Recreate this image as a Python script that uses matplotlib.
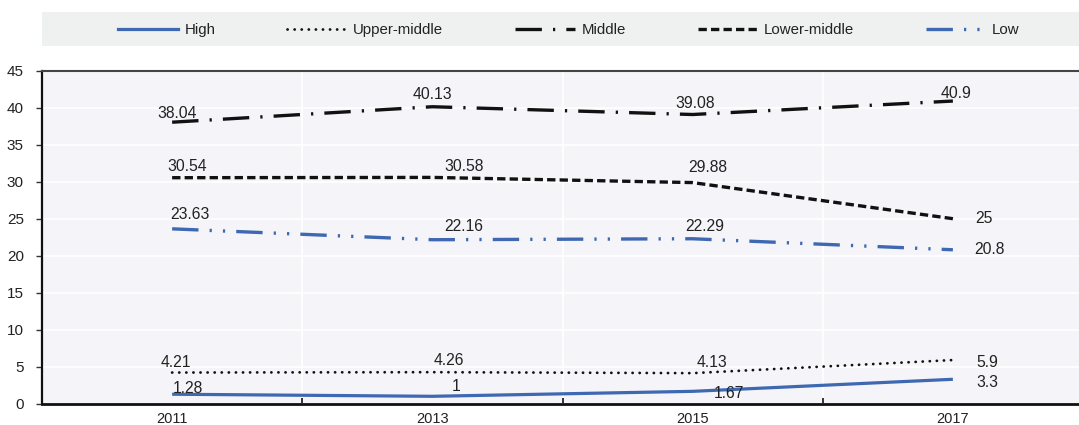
import matplotlib
matplotlib.use("Agg")
import matplotlib.pyplot as plt
from matplotlib.patches import Rectangle
from matplotlib.lines import Line2D

plt.rcParams['font.family'] = ['Liberation Sans', 'DejaVu Sans']
plt.rcParams['lines.scale_dashes'] = False

years = ["2011", "2013", "2015", "2017"]
series_names = ["High", "Upper-middle", "Middle", "Lower-middle", "Low"]
high = [1.28, 1, 1.67, 3.3]
upper_middle = [4.21, 4.26, 4.13, 5.9]
middle = [38.04, 40.13, 39.08, 40.9]
lower_middle = [30.54, 30.58, 29.88, 25]
low = [23.63, 22.16, 22.29, 20.8]
label_texts = {
    "High": ["1.28", "1", "1.67", "3.3"],
    "Upper-middle": ["4.21", "4.26", "4.13", "5.9"],
    "Middle": ["38.04", "40.13", "39.08", "40.9"],
    "Lower-middle": ["30.54", "30.58", "29.88", "25"],
    "Low": ["23.63", "22.16", "22.29", "20.8"],
}
values = {"High": high, "Upper-middle": upper_middle, "Middle": middle,
          "Lower-middle": lower_middle, "Low": low}

BLUE = "#3e68b1"
styles = {
    "High": dict(color=BLUE, lw=2.3, ls="-", capstyle="butt"),
    "Upper-middle": dict(color="#111111", lw=2.0, ls=(0, (0.1, 5.0)), capstyle="round"),
    "Middle": dict(color="#111111", lw=2.4, ls=(0, (19, 8, 1.6, 8)), capstyle="butt"),
    "Lower-middle": dict(color="#111111", lw=2.4, ls=(0, (6, 3)), capstyle="butt"),
    "Low": dict(color=BLUE, lw=2.4, ls=(0, (19, 8, 1.6, 8, 1.6, 8)), capstyle="butt"),
}
# label offsets in pixels (dx, dy)
offsets = {
    "High": [(16, 6), (24, 10), (36, -2), (34, -3)],
    "Upper-middle": [(4, 10), (17, 12), (19, 11), (34, -2)],
    "Middle": [(5, 9), (0, 12), (2, 11), (3, 8)],
    "Lower-middle": [(15, 11), (32, 11), (15, 15), (31, 0)],
    "Low": [(18, 14), (31, 13), (12, 12), (37, 0)],
}

fig = plt.figure(figsize=(10.79, 4.25), dpi=100)
W, H = 1079, 425
ax = fig.add_axes([42 / W, (H - 403.7) / H, (1083 - 42) / W, (403.7 - 70.7) / H])
ax.set_facecolor("#f4f4f9")

x = list(range(len(years)))
for name in series_names:
    st = styles[name]
    ax.plot(x, values[name], color=st["color"], lw=st["lw"], linestyle=st["ls"],
            dash_capstyle=st["capstyle"], solid_capstyle="butt", zorder=3)
    for i, (xv, yv) in enumerate(zip(x, values[name])):
        dx, dy = offsets[name][i]
        ax.annotate(label_texts[name][i], (xv, yv), xytext=(dx, dy),
                    textcoords="offset pixels", ha="center", va="center",
                    fontsize=11.3, color="#222222", zorder=4)

ax.set_xlim(-0.5, 3.5)
ax.set_ylim(0, 45)
ax.set_yticks(range(0, 46, 5))
ax.set_xticks(x)
ax.set_xticklabels(years)
ax.set_xticks([0.5, 1.5, 2.5], minor=True)
ax.tick_params(axis="x", which="major", length=0, labelsize=10.5, pad=6, colors="#222222")
ax.tick_params(axis="x", which="minor", direction="in", length=4, width=1.2, color="#111111")
ax.tick_params(axis="y", which="major", length=4, width=1, labelsize=11, pad=9,
               color="#333333", labelcolor="#222222")
ax.grid(axis="y", which="major", color="white", lw=1.2, zorder=0)
ax.grid(axis="x", which="minor", color="white", lw=1.2, zorder=0)
ax.set_axisbelow(True)
for s in ["left", "bottom"]:
    ax.spines[s].set_color("#111111")
ax.spines["left"].set_linewidth(1.6)
ax.spines["bottom"].set_linewidth(2.0)
ax.spines["top"].set_color("#444444")
ax.spines["top"].set_linewidth(1.5)
ax.spines["right"].set_visible(False)

# legend background band
fig.patches.append(Rectangle((42 / W, (H - 46) / H), (1079 - 42) / W, 34 / H,
                             transform=fig.transFigure, facecolor="#eff0f0",
                             edgecolor="none", zorder=0))
handles = []
for name in series_names:
    st = styles[name]
    handles.append(Line2D([0], [0], color=st["color"], lw=st["lw"], linestyle=st["ls"],
                          dash_capstyle=st["capstyle"]))
fig.legend(handles, series_names, loc="center", bbox_to_anchor=(569 / W, (H - 30) / H),
           ncol=5, frameon=False, fontsize=10.8, handlelength=4.0, handletextpad=0.4,
           columnspacing=4.8, labelcolor="#222222")

fig.savefig("out.png", dpi=100)
